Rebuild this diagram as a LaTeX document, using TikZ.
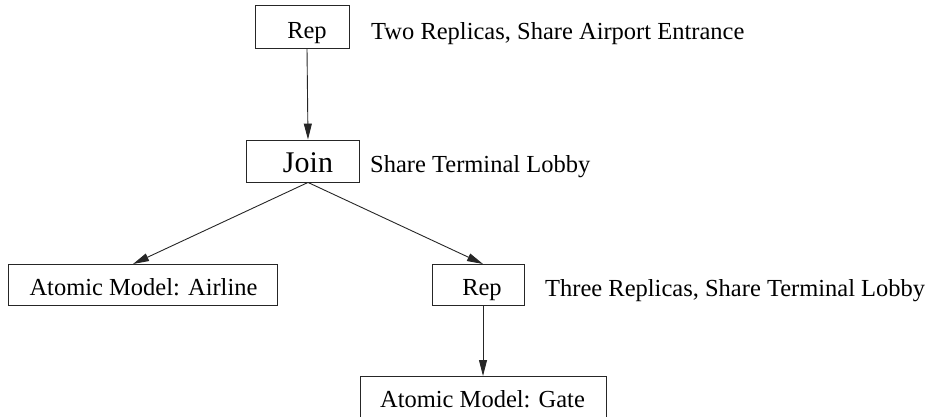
\documentclass[tikz,border=0pt]{standalone}
\usepackage{fontspec}
\setmainfont{Liberation Serif}
\usetikzlibrary{arrows.meta}
\begin{document}
\begin{tikzpicture}[x=1pt,y=1pt,
  box/.style={draw=black!85,line width=0.9pt,inner sep=0pt,fill=none},
  txt/.style={inner sep=0pt,font=\fontsize{24.5}{28}\selectfont},
  bigtxt/.style={inner sep=0pt,font=\fontsize{30}{34}\selectfont},
  conn/.style={draw=black!85,line width=0.9pt,-{Triangle[length=16pt,width=8pt]}}]
\useasboundingbox (0,0) rectangle (934,-417);
% boxes
\node[box,minimum width=94,minimum height=43] (rep1) at (302,-26.5) {};
\node[txt,anchor=base] (rep1t) at (307,-39) {Rep};
\node[box,minimum width=113,minimum height=42] (join) at (302.5,-161) {};
\node[bigtxt,anchor=base] (joint) at (308,-172) {Join};
\node[box,minimum width=269,minimum height=41] (air) at (142.5,-284.5) {};
\node[txt,anchor=base] (airt) at (143.5,-295) {Atomic Model: Airline};
\node[box,minimum width=92,minimum height=41] (rep2) at (478,-284.5) {};
\node[txt,anchor=base] (rep2t) at (482,-295) {Rep};
\node[box,minimum width=246,minimum height=44] (gate) at (483,-398) {};
\node[txt,anchor=base] (gatet) at (482.5,-407) {Atomic Model: Gate};
% labels
\node[txt,anchor=base west] (l1) at (371,-40) {Two Replicas, Share Airport Entrance};
\node[txt,anchor=base west] (l2) at (370,-172) {Share Terminal Lobby};
\node[txt,anchor=base west] (l3) at (545,-296) {Three Replicas, Share Terminal Lobby};
% connectors
\coordinate (jtop) at (joint |- join.north);
\coordinate (jbot) at (joint |- join.south);
\coordinate (airtop) at (133,-264);
\coordinate (r2top) at (483,-264);
\coordinate (r2bot) at (483,-305);
\coordinate (gtop) at (483,-376);
\draw[conn] (rep1t |- rep1.south) -- (jtop);
\draw[conn] (jbot) -- (airtop);
\draw[conn] (jbot) -- (r2top);
\draw[conn] (r2bot) -- (gtop);
\end{tikzpicture}
\end{document}
